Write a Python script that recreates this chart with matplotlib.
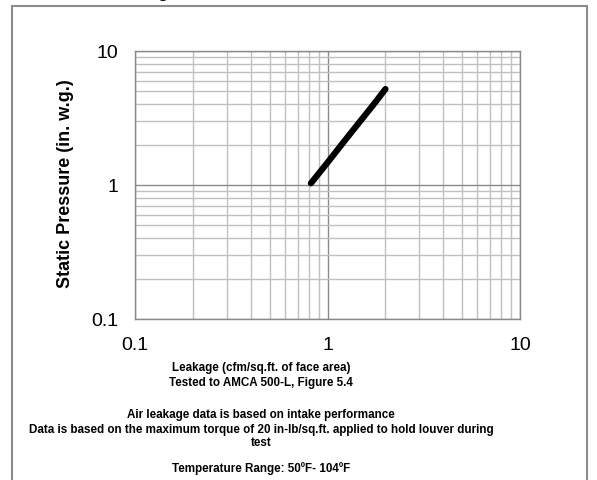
import matplotlib.pyplot as plt
from matplotlib.patches import Rectangle
from matplotlib.ticker import LogLocator, FixedLocator, FixedFormatter, NullFormatter

plt.rcParams['font.family'] = ['Liberation Sans', 'DejaVu Sans']

# leakage curve
leakage = [0.82, 1.0, 1.25, 1.5, 1.75, 2.0]
pressure = [1.03, 1.47, 2.21, 3.07, 4.05, 5.2]

tick_vals = [0.1, 1, 10]
tick_text = ['0.1', '1', '10']

fig = plt.figure(figsize=(5.97, 4.80), dpi=100)
ax = fig.add_axes([135/597, 1-319/480, 385/597, 268/480])

# outer frame of the chart area
fig.patches.append(Rectangle((12/597, -0.1), 575/597, 1.1-6/480, transform=fig.transFigure,
                             fill=False, edgecolor='#8c8c8c', linewidth=1.5))
fig.text(142/597, 1+3/480, 'Leakage', ha='center', va='baseline', fontsize=14)

ax.set_xscale('log')
ax.set_yscale('log')
ax.set_xlim(0.1, 10)
ax.set_ylim(0.1, 10)

for axis in (ax.xaxis, ax.yaxis):
    axis.set_major_locator(FixedLocator(tick_vals))
    axis.set_major_formatter(FixedFormatter(tick_text))
    axis.set_minor_locator(LogLocator(base=10, subs=range(2, 10)))
    axis.set_minor_formatter(NullFormatter())

ax.grid(True, which='minor', color='#c0c0c0', linewidth=1.0)
ax.grid(True, which='major', color='#8a8a8a', linewidth=1.0)
ax.tick_params(which='both', length=0, labelsize=14)
ax.tick_params(axis='x', pad=13)
ax.tick_params(axis='y', pad=12)
for s in ax.spines.values():
    s.set_color('#8a8a8a')
    s.set_linewidth(1.0)

ax.plot(leakage, pressure, color='black', linewidth=4.5, solid_capstyle='round')

fig.text(66/597, 1-184/480, 'Static Pressure (in. w.g.)', rotation=90,
         ha='center', va='center', fontsize=13, fontweight='bold')

lines = [
    (368, 'Leakage (cfm/sq.ft. of face area)'),
    (383, 'Tested to AMCA 500-L, Figure 5.4'),
    (415, 'Air leakage data is based on intake performance'),
    (430, 'Data is based on the maximum torque of 20 in-lb/sq.ft. applied to hold louver during'),
    (443, 'test'),
    (469, 'Temperature Range: 50ºF- 104ºF'),
]
for y, t in lines:
    fig.text(261/597, 1-y/480, t, ha='center', va='center', fontsize=8.4, fontweight='bold')

fig.savefig('out.png', dpi=100)
